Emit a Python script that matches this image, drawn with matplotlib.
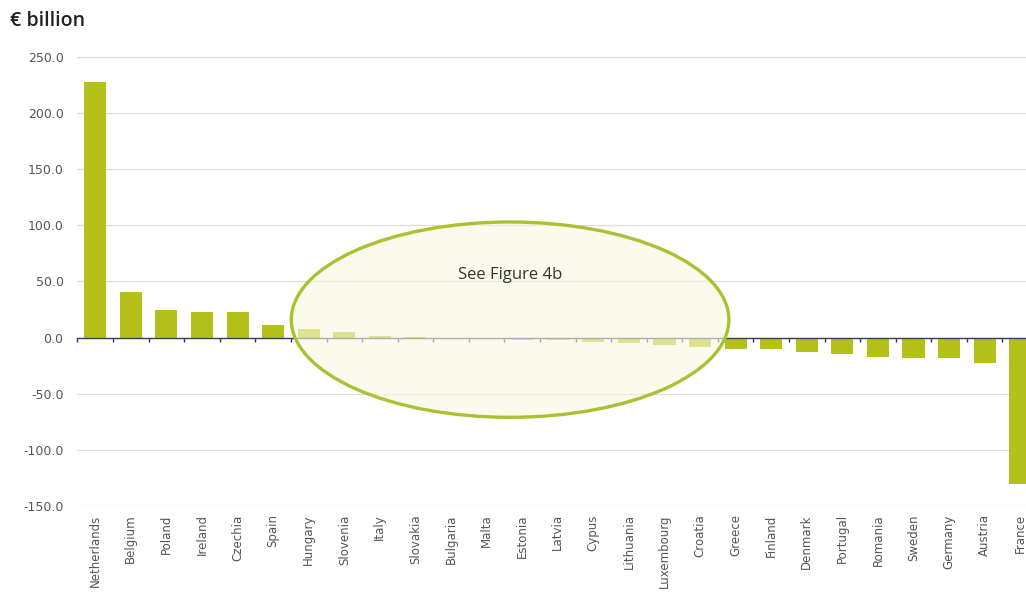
import matplotlib.pyplot as plt
from matplotlib.patches import Ellipse

# Datos (miles de millones de euros)
paises = ['Netherlands', 'Belgium', 'Poland', 'Ireland', 'Czechia', 'Spain', 'Hungary',
          'Slovenia', 'Italy', 'Slovakia', 'Bulgaria', 'Malta', 'Estonia', 'Latvia',
          'Cypus', 'Lithuania', 'Luxembourg', 'Croatia', 'Greece', 'Finland', 'Denmark',
          'Portugal', 'Romania', 'Sweden', 'Germany', 'Austria', 'France']
valores = [228.0, 41.0, 25.0, 22.5, 22.5, 11.5, 8.0, 5.0, 1.0, 0.5, -0.5, -1.5, -2.0,
           -2.5, -3.5, -4.5, -6.5, -8.0, -10.5, -10.5, -13.0, -15.0, -17.0, -18.5,
           -18.5, -22.5, -130.0]
yticks = [250, 200, 150, 100, 50, 0, -50, -100, -150]

verde = '#b4c11a'
gris = '#555555'

fig = plt.figure(figsize=(10.26, 6.06), dpi=100)
ax = fig.add_axes([0.0755, 0.165, 0.93, 0.741])

n = len(paises)
ax.bar(range(n), valores, width=0.62, color=verde, zorder=2)

ax.set_xlim(-0.47, n - 1 + 0.32)
ax.set_ylim(-150, 250)
ax.set_yticks(yticks, labels=['%.1f' % v for v in yticks])
ax.tick_params(axis='y', length=0, pad=10, labelsize=9, labelcolor=gris)
ax.grid(axis='y', color='#dcdcdc', linewidth=0.9, zorder=0)
ax.set_axisbelow(True)

for s in ['top', 'right', 'left']:
    ax.spines[s].set_visible(False)
ax.spines['bottom'].set_position(('data', 0))
ax.spines['bottom'].set_color('#3a3f5c')
ax.spines['bottom'].set_linewidth(1.0)
ax.spines['bottom'].set_zorder(3)
ax.set_xticks([i - 0.5 for i in range(n)], labels=[''] * n)
ax.tick_params(axis='x', direction='out', length=3, color='#2b3170', width=1)

# etiquetas de paises abajo
sec = ax.secondary_xaxis(0)
sec.set_xticks(range(n), labels=paises, rotation=90)
sec.tick_params(length=0, pad=6, labelsize=8.5, labelcolor=gris)
sec.spines['bottom'].set_visible(False)

# elipse "See Figure 4b"
elipse = Ellipse((11.66, 16), 12.3, 174, facecolor='#f8f9e0', alpha=0.6,
                 edgecolor='none', zorder=4)
ax.add_patch(elipse)
borde = Ellipse((11.66, 16), 12.3, 174, facecolor='none', edgecolor='#a9c234',
                linewidth=2.4, zorder=5)
ax.add_patch(borde)
ax.text(11.66, 56, 'See Figure 4b', ha='center', va='center', fontsize=12,
        family='Open Sans', color='#333333', zorder=6)

fig.text(0.01, 0.965, '€ billion', fontsize=14, color='#222222', ha='left', va='center',
         family='Open Sans', weight='semibold')

fig.savefig('out.png', dpi=100)
